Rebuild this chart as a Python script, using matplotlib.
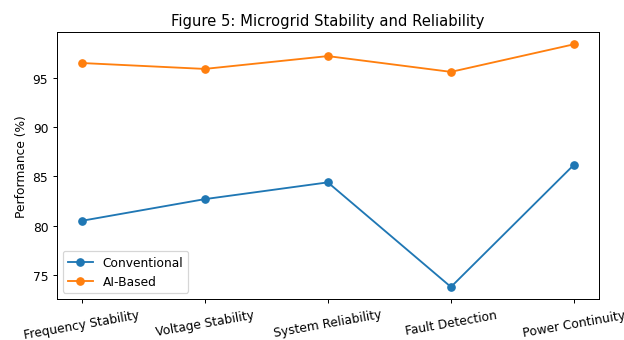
import matplotlib
matplotlib.use("Agg")
from matplotlib import pyplot as plt

# Metrics along the x axis
metrics = ['Frequency Stability', 'Voltage Stability', 'System Reliability',
           'Fault Detection', 'Power Continuity']
conventional = [80.5, 82.7, 84.4, 73.8, 86.2]
ai_based = [96.5, 95.9, 97.2, 95.6, 98.4]

fig, ax = plt.subplots(figsize=(7.05, 3.846), dpi=88.65)
ax.plot(metrics, conventional, marker='o', label='Conventional')
ax.plot(metrics, ai_based, marker='o', label='AI-Based')

ax.set_title('Figure 5: Microgrid Stability and Reliability')
ax.set_ylabel('Performance (%)')
ax.legend(loc='lower left')
plt.xticks(rotation=10)

plt.subplots_adjust(left=0.091, right=0.958, top=0.903, bottom=0.12)
plt.savefig('out.png')
